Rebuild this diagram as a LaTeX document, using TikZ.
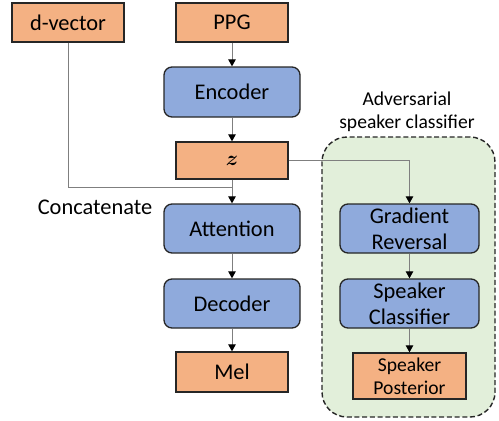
\documentclass[tikz,border=0pt]{standalone}
\usepackage{amsmath}
\usepackage{fontspec}
\setmainfont{Carlito}
\usetikzlibrary{arrows.meta}

\definecolor{boxorange}{HTML}{F4B183}
\definecolor{boxblue}{HTML}{8FAADC}
\definecolor{groupgreen}{HTML}{E2EFDA}
\definecolor{edgegray}{HTML}{7F7F7F}

\tikzset{
  basebox/.style={draw=black!85, line width=1.3pt, inner sep=0pt, align=center,
    font=\fontsize{22.4}{27}\selectfont},
  databox/.style={basebox, fill=boxorange},
  procbox/.style={basebox, fill=boxblue, rounded corners=8pt},
  flow/.style={draw=edgegray, line width=1pt,
    -{Triangle[length=7pt,width=7.5pt,color=black]}},
  plain/.style={draw=edgegray, line width=1pt},
}

\begin{document}
\begin{tikzpicture}[x=1pt, y=-1pt]
  \useasboundingbox (0,0) rectangle (499,421);

  % adversarial branch background
  \node[draw=black!85, dash pattern=on 5pt off 2.7pt, line width=1.4pt, fill=groupgreen,
        rounded corners=25pt, minimum width=173pt, minimum height=280pt] (adv) at (408.5,277) {};
  \node[align=center, font=\fontsize{19.6}{23}\selectfont] (advlabel) at (407,112)
        {Adversarial\\speaker classifier};

  % main pipeline
  \node[databox, minimum width=112pt, minimum height=39pt] (dvec) at (68,22.5) {d-vector};
  \node[databox, minimum width=112pt, minimum height=39pt] (ppg)  at (232,22.5) {PPG};
  \node[procbox, minimum width=136pt, minimum height=50pt] (enc)  at (232,92) {Encoder};
  \node[databox, minimum width=112pt, minimum height=37pt] (z)    at (232,160.5)
        {$\boldsymbol{z}$};
  \node[procbox, minimum width=136pt, minimum height=49pt] (att)  at (232,228.5) {Attention};
  \node[procbox, minimum width=136pt, minimum height=49pt] (dec)  at (232,303.5) {Decoder};
  \node[databox, minimum width=112pt, minimum height=40pt] (mel)  at (232,372) {Mel};

  \node[font=\fontsize{22.4}{27}\selectfont] (concat) at (95,207) {Concatenate};

  % speaker classifier branch
  \node[procbox, minimum width=139pt, minimum height=49pt] (grad) at (409.5,228.5)
        {Gradient\\[-1pt]Reversal};
  \node[procbox, minimum width=139pt, minimum height=49pt] (spk)  at (409.5,303.5)
        {Speaker\\[-1pt]Classifier};
  \node[databox, minimum width=113pt, minimum height=46pt,
        font=\fontsize{19.6}{23}\selectfont] (post) at (409.5,376) {Speaker\\Posterior};

  % connectors
  \coordinate (join) at (232,187);
  \draw[flow] (ppg) -- (enc);
  \draw[flow] (enc) -- (z);
  \draw[plain] (dvec.south) |- (join);
  \draw[flow] (z) -- (att);
  \draw[flow] (att) -- (dec);
  \draw[flow] (dec) -- (mel);
  \draw[flow] (z.east) -| (grad.north);
  \draw[flow] (grad) -- (spk);
  \draw[flow] (spk) -- (post);
\end{tikzpicture}
\end{document}
